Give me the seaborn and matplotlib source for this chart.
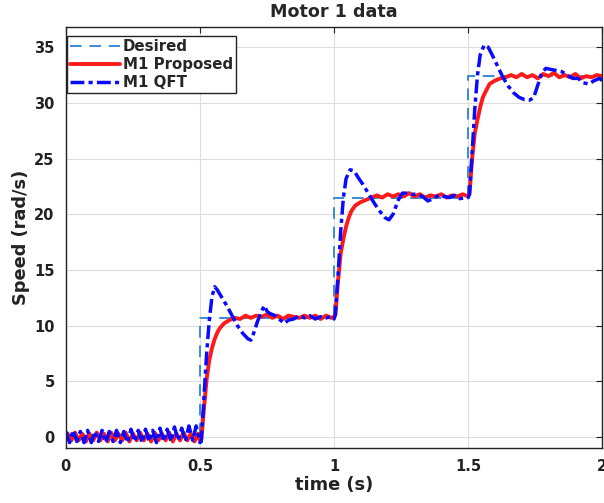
import numpy as np
import pandas as pd
import matplotlib
matplotlib.use("Agg")
import matplotlib.pyplot as plt
import seaborn as sns

# Desired step reference
t_des = [0.0, 0.5, 0.5, 1.0, 1.0, 1.5, 1.5, 2.0]
v_des = [0.0, 0.0, 10.7, 10.7, 21.5, 21.5, 32.4, 32.4]

# M1 QFT (blue, dash-dot)
t_qft = [0.000, 0.014, 0.027, 0.041, 0.054, 0.068, 0.081, 0.095, 0.108, 0.122,
         0.135, 0.149, 0.162, 0.176, 0.189, 0.203, 0.216, 0.230, 0.243, 0.257,
         0.270, 0.284, 0.297, 0.311, 0.324, 0.338, 0.351, 0.365, 0.378, 0.392,
         0.405, 0.419, 0.432, 0.446, 0.459, 0.473, 0.486, 0.500,
         0.505, 0.515, 0.525, 0.535, 0.545, 0.555, 0.565, 0.580, 0.600, 0.620,
         0.640, 0.660, 0.680, 0.690, 0.700, 0.715, 0.730, 0.740, 0.750, 0.760,
         0.780, 0.800, 0.815, 0.830, 0.850, 0.870, 0.890, 0.910, 0.930, 0.950,
         0.970, 0.990, 1.000,
         1.005, 1.015, 1.025, 1.035, 1.045, 1.060, 1.075, 1.090, 1.110, 1.130,
         1.150, 1.170, 1.190, 1.205, 1.220, 1.240, 1.255, 1.270, 1.290, 1.310,
         1.330, 1.350, 1.370, 1.390, 1.410, 1.430, 1.450, 1.470, 1.490, 1.500,
         1.505, 1.515, 1.525, 1.535, 1.545, 1.560, 1.575, 1.590, 1.610, 1.630,
         1.650, 1.670, 1.690, 1.710, 1.730, 1.745, 1.760, 1.775, 1.790, 1.810,
         1.830, 1.850, 1.870, 1.890, 1.910, 1.930, 1.950, 1.970, 1.990, 2.000]
v_qft = [0.5, -0.5, 0.6, -0.4, 0.5, -0.5, 0.6, -0.5, 0.5, -0.4,
         0.6, -0.5, 0.5, -0.4, 0.6, -0.5, 0.5, -0.5, 0.7, -0.4,
         0.6, -0.5, 0.7, -0.4, 0.6, -0.5, 0.8, -0.4, 0.7, -0.4,
         0.9, -0.3, 0.8, -0.4, 1.0, -0.3, 1.0, -0.5,
         -0.4, 3.5, 7.5, 10.5, 12.6, 13.5, 13.2, 12.6, 11.8, 10.9,
         10.0, 9.3, 8.8, 8.7, 9.3, 10.4, 11.3, 11.8, 11.3, 11.1,
         10.9, 10.5, 10.2, 10.5, 10.6, 10.9, 10.7, 10.9, 10.6, 10.8,
         10.7, 10.8, 10.6,
         11.0, 14.5, 18.5, 21.5, 23.2, 24.0, 23.9, 23.3, 22.6, 21.8,
         21.0, 20.3, 19.7, 19.5, 20.0, 21.3, 21.9, 21.9, 21.8, 21.8,
         21.6, 21.2, 21.4, 21.7, 21.6, 21.5, 21.7, 21.4, 21.5, 21.5,
         21.8, 25.5, 29.5, 32.5, 34.3, 35.2, 35.0, 34.3, 33.3, 32.3,
         31.5, 30.9, 30.5, 30.3, 30.25, 30.5, 31.6, 32.7, 33.1, 33.0,
         32.9, 32.8, 32.5, 32.2, 32.2, 31.8, 31.7, 32.0, 32.2, 32.0]

# M1 Proposed (red, solid)
t_prop = [0.000, 0.007, 0.021, 0.034, 0.048, 0.061, 0.075, 0.088, 0.102, 0.115,
          0.129, 0.142, 0.156, 0.169, 0.183, 0.196, 0.210, 0.223, 0.237, 0.250,
          0.264, 0.277, 0.291, 0.304, 0.318, 0.331, 0.345, 0.358, 0.372, 0.385,
          0.399, 0.412, 0.426, 0.439, 0.453, 0.466, 0.480, 0.493, 0.500,
          0.505, 0.515, 0.525, 0.535, 0.545, 0.555, 0.565, 0.575, 0.590, 0.610,
          0.630, 0.650, 0.670, 0.690, 0.710, 0.730, 0.750, 0.770, 0.790, 0.810,
          0.830, 0.850, 0.870, 0.890, 0.910, 0.930, 0.950, 0.970, 0.990, 1.000,
          1.005, 1.015, 1.025, 1.035, 1.045, 1.055, 1.065, 1.080, 1.100, 1.120,
          1.140, 1.160, 1.180, 1.200, 1.220, 1.240, 1.260, 1.280, 1.300, 1.320,
          1.340, 1.360, 1.380, 1.400, 1.420, 1.440, 1.460, 1.480, 1.500,
          1.505, 1.515, 1.525, 1.535, 1.545, 1.555, 1.565, 1.580, 1.600, 1.620,
          1.640, 1.660, 1.680, 1.700, 1.720, 1.740, 1.760, 1.780, 1.800, 1.820,
          1.840, 1.860, 1.880, 1.900, 1.920, 1.940, 1.960, 1.980, 2.000]
v_prop = [0.0, 0.3, -0.3, 0.4, -0.3, 0.3, -0.4, 0.3, -0.3, 0.4,
          -0.3, 0.3, -0.4, 0.4, -0.3, 0.3, -0.3, 0.4, -0.4, 0.3,
          -0.3, 0.4, -0.3, 0.3, -0.4, 0.4, -0.3, 0.3, -0.3, 0.4,
          -0.4, 0.3, -0.3, 0.4, -0.3, 0.3, -0.4, 0.3, -0.3,
          -0.2, 2.5, 5.2, 6.9, 8.0, 8.8, 9.4, 9.8, 10.2, 10.5,
          10.7, 10.6, 10.9, 10.7, 10.9, 10.8, 11.0, 10.7, 10.9, 10.6,
          10.9, 10.8, 10.7, 10.9, 10.7, 10.9, 10.6, 10.9, 10.7, 10.8,
          11.0, 14.0, 16.5, 17.8, 18.9, 19.7, 20.3, 20.8, 21.1, 21.3,
          21.5, 21.7, 21.5, 21.8, 21.6, 21.8, 21.6, 21.9, 21.6, 21.8,
          21.5, 21.7, 21.6, 21.8, 21.5, 21.7, 21.6, 21.8, 21.6,
          21.8, 25.0, 27.3, 28.5, 29.6, 30.5, 31.0, 31.7, 32.0, 32.2,
          32.3, 32.5, 32.3, 32.6, 32.3, 32.5, 32.2, 32.6, 32.4, 32.7,
          32.3, 32.5, 32.3, 32.6, 32.2, 32.4, 32.3, 32.5, 32.4]

x_ticks = [0, 0.5, 1, 1.5, 2]
x_tick_labels = ["0", "0.5", "1", "1.5", "2"]
y_ticks = [0, 5, 10, 15, 20, 25, 30, 35]

sns.set_style("whitegrid")
plt.rcParams['font.family'] = ['DejaVu Sans']
plt.rcParams['font.weight'] = 'bold'

fig = plt.figure(figsize=(6.04, 5.03), dpi=100)
ax = fig.add_axes([0.109, 0.109, 0.888, 0.837])

sns.lineplot(x=t_des, y=v_des, ax=ax, estimator=None, sort=False,
             color='#3a8ad6', linewidth=1.4, linestyle=(0, (6, 4)), label='Desired')
sns.lineplot(x=t_prop, y=v_prop, ax=ax, estimator=None, sort=False,
             color='#ff1a1a', linewidth=2.8, label='M1 Proposed')
sns.lineplot(x=t_qft, y=v_qft, ax=ax, estimator=None, sort=False,
             color='#0a0aff', linewidth=2.5, linestyle=(0, (4, 1.2, 1.2, 1.2)),
             label='M1 QFT')

ax.set_xlim(0, 2)
ax.set_ylim(-1, 36.8)
ax.set_xticks(x_ticks)
ax.set_xticklabels(x_tick_labels)
ax.set_yticks(y_ticks)
ax.tick_params(axis='both', which='both', direction='in', length=4, width=0.8,
               top=True, right=True, labelsize=10.5, colors='#222222', pad=8)
for lab in ax.get_xticklabels() + ax.get_yticklabels():
    lab.set_fontweight('bold')
ax.grid(True, color='#dddddd', linewidth=0.8)
for sp in ax.spines.values():
    sp.set_color('#222222')
    sp.set_linewidth(1.0)

ax.set_title('Motor 1 data', fontsize=12.6, fontweight='bold', pad=7)
ax.set_xlabel('time (s)', fontsize=12.8, fontweight='bold', color='#222222', labelpad=1)
ax.set_ylabel('Speed (rad/s)', fontsize=12.8, fontweight='bold', color='#222222', labelpad=3)

leg = ax.legend(loc='upper left', bbox_to_anchor=(0.003, 0.979), fontsize=10.8,
                frameon=True, fancybox=False, handlelength=3.3, handletextpad=0.2,
                borderpad=0.2, labelspacing=0.2, borderaxespad=0)
leg.get_frame().set_edgecolor('#222222')
leg.get_frame().set_linewidth(1.0)
leg.get_frame().set_alpha(1)
for txt in leg.get_texts():
    txt.set_fontweight('bold')

plt.savefig('out.png', dpi=100)
